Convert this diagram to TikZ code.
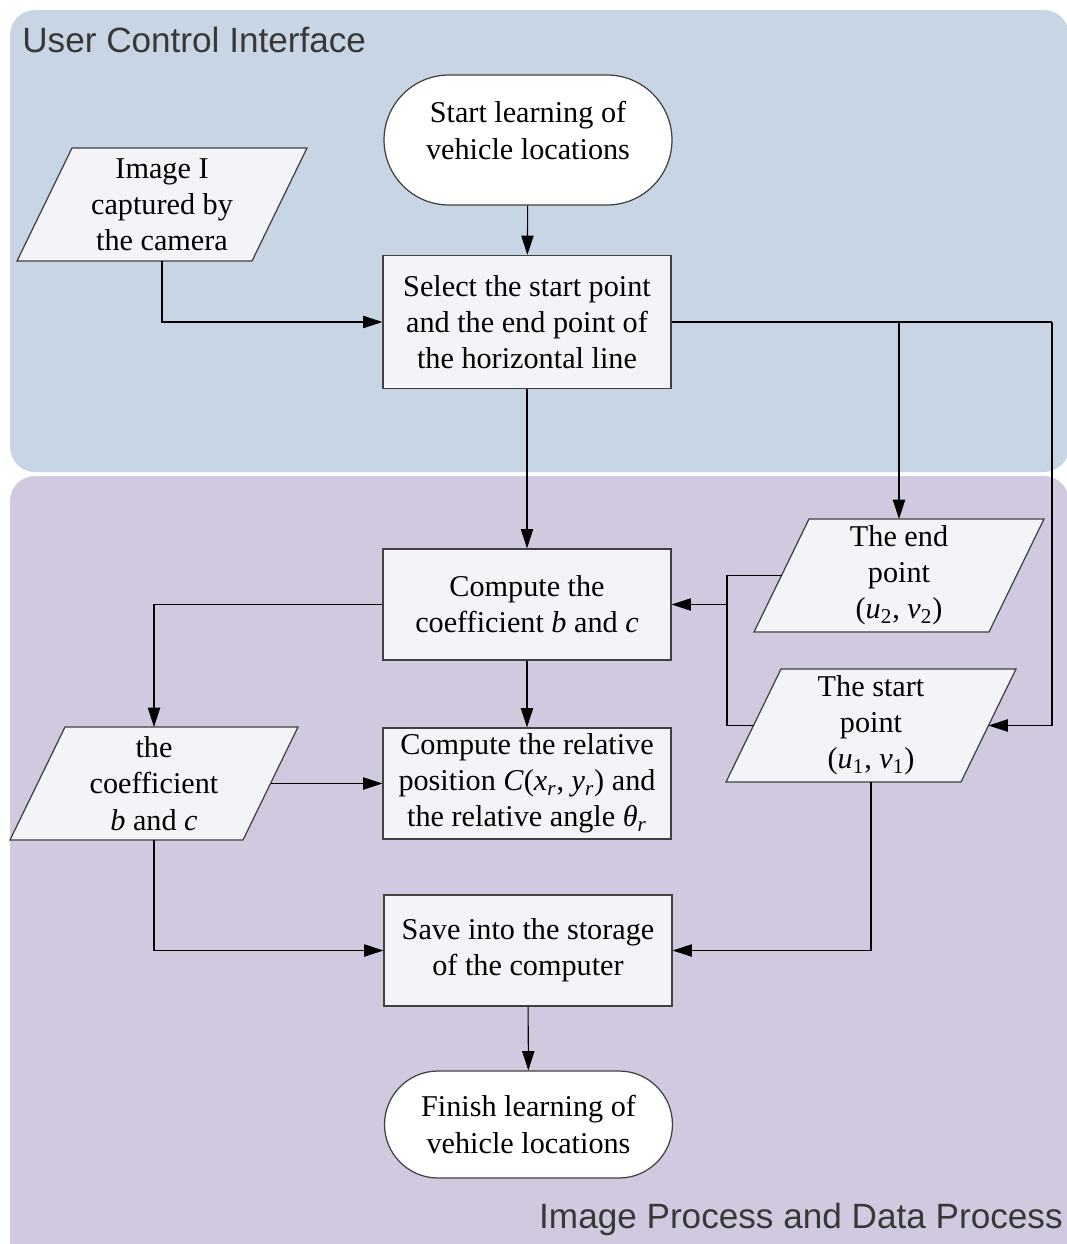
\documentclass[tikz,border=0pt]{standalone}
\usepackage{fontspec}
\setmainfont{Liberation Serif}
\newfontfamily\panelfont{Liberation Sans}
\usetikzlibrary{arrows.meta,calc}
\definecolor{bluepanel}{HTML}{C7D5E5}
\definecolor{purplepanel}{HTML}{D1C9DF}
\definecolor{nodefill}{HTML}{F4F3F8}
\definecolor{paneltext}{HTML}{383838}
\newcommand{\nodefont}{\fontsize{17.2}{20.6}\selectfont}
\newcommand{\iopara}[3]{%
  \draw[ioshape] ($(#1-c)+(-#2/2+55,-56.5)$) -- ($(#1-c)+(#2/2,-56.5)$) -- ($(#1-c)+(#2/2-55,56.5)$) -- ($(#1-c)+(-#2/2,56.5)$) -- cycle;
  \node[iobox] (#1) at (#1-c) {#3};
  \coordinate (#1L) at ($(#1-c)+(-#2/2+27.5,0)$);
  \coordinate (#1R) at ($(#1-c)+(#2/2-27.5,0)$);
  \coordinate (#1T) at ($(#1-c)+(0,-56.5)$);
  \coordinate (#1B) at ($(#1-c)+(0,56.5)$);
}
\begin{document}
\begin{tikzpicture}[x=0.02cm,y=-0.02cm,
  box/.style={draw=black!75, fill=nodefill, line width=0.7pt, minimum width=5.76cm,
    align=center, font=\nodefont, inner sep=0pt},
  term/.style={box, fill=white, minimum height=2.6cm, rounded corners=1.3cm},
  iobox/.style={minimum width=5.8cm, minimum height=2.26cm, align=center,
    font=\nodefont, inner sep=0pt},
  ioshape/.style={draw=black!75, fill=nodefill, line width=0.7pt},
  arr/.style={draw=black, line width=0.6pt, -{Triangle[length=11pt,width=7pt]}},
  ln/.style={draw=black, line width=0.6pt},
  paneltitle/.style={font=\panelfont\fontsize{20}{24}\selectfont, text=paneltext, inner sep=0pt}]
\useasboundingbox (0,0) rectangle (1067,1244);
\clip (0,0) rectangle (1067,1244);
% panels
\fill[bluepanel, rounded corners=0.5cm] (10,10) rectangle (1069,472);
\fill[purplepanel, rounded corners=0.5cm] (10,476) rectangle (1069,1290);
\node[paneltitle, anchor=base west] (t1) at (22,52) {User Control Interface};
\node[paneltitle, anchor=base east] (t2) at (1063,1228) {Image Process and Data Process};
% process nodes
\node[term, text depth=11pt] (start) at (528,140) {Start learning of\\vehicle locations};
\node[box, minimum height=2.66cm] (select) at (527,322) {Select the start point\\and the end point of\\the horizontal line};
\node[box, minimum height=2.22cm] (coef) at (527,604.5) {Compute the\\coefficient \textit{b} and \textit{c}};
\node[box, minimum height=2.22cm] (rel) at (527,783.5) {Compute the relative\\position \textit{C}(\textit{x}\textsubscript{\textit{r}}, \textit{y}\textsubscript{\textit{r}}) and\\the relative angle \textit{θ}\textsubscript{\textit{r}}};
\node[box, minimum height=2.22cm] (save) at (528,950.5) {Save into the storage\\of the computer};
\node[term, minimum height=2.14cm, rounded corners=1.07cm] (finish) at (528.5,1124.5) {Finish learning of\\vehicle locations};
% io parallelograms (slant 55 px)
\coordinate (imgI-c) at (162,204.5);
\coordinate (ep-c) at (899,575.5);
\coordinate (sp-c) at (871,725.5);
\coordinate (bc-c) at (154,783.5);
\iopara{imgI}{290}{Image I\\captured by\\the camera}
\iopara{ep}{290}{The end\\point\\(\textit{u}\textsubscript{2}, \textit{v}\textsubscript{2})}
\iopara{sp}{290}{The start\\point\\(\textit{u}\textsubscript{1}, \textit{v}\textsubscript{1})}
\iopara{bc}{288}{the\\coefficient\\\textit{b} and \textit{c}}
% connectors
\coordinate (rt) at (1052,322);
\coordinate (bx) at (727,604.5);
\draw[arr] (start) -- (select);
\draw[arr] (imgIB) |- (select.west);
\draw[ln] (select.east) -- (rt);
\draw[arr] (rt) |- (spR);
\draw[arr] (epT |- select.east) -- (epT);
\draw[arr] (select) -- (coef);
\draw[ln] (epL) -| (bx) |- (spL);
\draw[arr] (bx) -- (coef.east);
\draw[arr] (coef.west) -| (bcT);
\draw[arr] (coef) -- (rel);
\draw[arr] (bcR) -- (rel.west |- bcR);
\draw[arr] (bcB) |- (save.west);
\draw[arr] (spB) |- (save.east);
\draw[arr] (save) -- (finish);
\end{tikzpicture}
\end{document}
